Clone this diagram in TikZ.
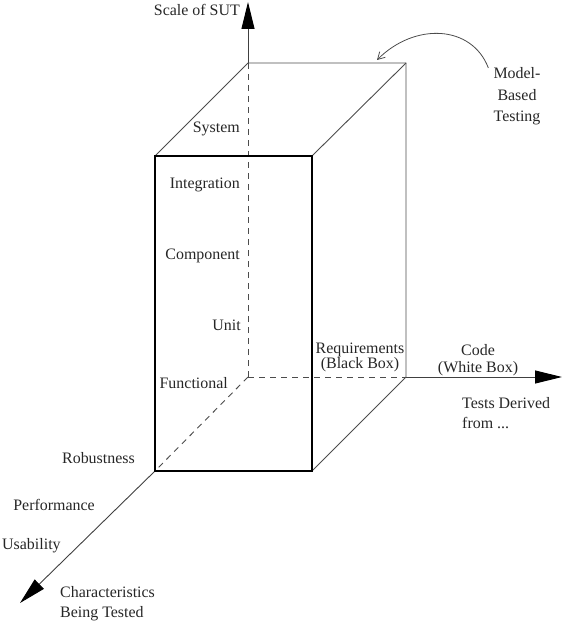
\documentclass[tikz,border=0pt]{standalone}
\usepackage{fontspec}
\setmainfont{Liberation Serif}
\usepackage{tikz}
\usetikzlibrary{positioning,arrows.meta}

\begin{document}
\begin{tikzpicture}[
  x=1bp, y=-1bp,
  axis/.style={draw=black!75, line width=0.9bp},
  hidden/.style={draw=black!70, line width=0.9bp, dash pattern=on 6bp off 5bp},
  face/.style={draw=black, line width=1.6bp},
  edge/.style={draw=black!70, line width=0.9bp},
  big/.style={-{Triangle[length=27bp,width=13bp,black]}},
  lbl/.style={font=\fontsize{16}{19}\selectfont, inner sep=0pt, align=center, text=black!85}
]
\useasboundingbox (0,0) rectangle (565,622);

% corners of the box
\coordinate (O) at (248,377);
\coordinate (btl) at (248,63);
\coordinate (btr) at (406,63);
\coordinate (bbr) at (406,377);
\coordinate (ftl) at (155,156);
\coordinate (ftr) at (312,156);
\coordinate (fbl) at (155,471);
\coordinate (fbr) at (312,471);
% axis tips
\coordinate (ytip) at (248,2);
\coordinate (xtip) at (562,377);
\coordinate (ztip) at (20,603);
\coordinate (mbtip) at (377,60);

% hidden edges
\draw[hidden] (O) -- (btl);
\draw[hidden] (O) -- (bbr);
\draw[hidden] (O) -- (fbl);

% axes
\draw[axis, big] (btl) -- (ytip);
\draw[axis, big] (bbr) -- (xtip);
\draw[axis, big] (fbl) -- (ztip);

% box
\draw[edge] (ftl) -- (btl) -- (btr) -- (bbr) -- (fbr);
\draw[edge] (btr) -- (ftr);
\draw[face] (ftl) rectangle (fbr);

% scale of SUT
\node[lbl, anchor=base east] (sut) at (240,16) {Scale of SUT};
\node[lbl, anchor=base east] (system) at (240,133) {System};
\node[lbl, anchor=base east] (integ) at (240,188) {Integration};
\node[lbl, anchor=base east] (comp) at (240,259) {Component};
\node[lbl, anchor=base east] (unit) at (241,330) {Unit};
\node[lbl, anchor=base east] (func) at (228,388) {Functional};

% tests derived from (base = last line)
\node[lbl, font=\fontsize{16}{15}\selectfont, anchor=base] (req) at (360,368) {Requirements\\(Black Box)};
\node[lbl, font=\fontsize{16}{17}\selectfont, anchor=base] (code) at (478,372) {Code\\(White Box)};
\node[lbl, align=left, font=\fontsize{16}{20}\selectfont, anchor=base west] (tests) at (462,428) {Tests Derived\\from ...};

% characteristics
\node[lbl, anchor=base east] (robust) at (135,463) {Robustness};
\node[lbl, anchor=base east] (perf) at (95,510) {Performance};
\node[lbl, anchor=base west] (usab) at (2,549) {Usability};
\node[lbl, align=left, font=\fontsize{16}{20}\selectfont, anchor=base west] (charac) at (60,617) {Characteristics\\Being Tested};

% model-based testing
\node[lbl, font=\fontsize{16}{22}\selectfont, anchor=base] (mbt) at (517,122) {Model-\\Based\\Testing};
\draw[edge, line width=0.8bp, -{Straight Barb[length=7bp,width=8bp]}]
  ([xshift=-5bp,yshift=-1bp]mbt.north west) .. controls (472,25) and (415,22) .. (mbtip);
\end{tikzpicture}
\end{document}
